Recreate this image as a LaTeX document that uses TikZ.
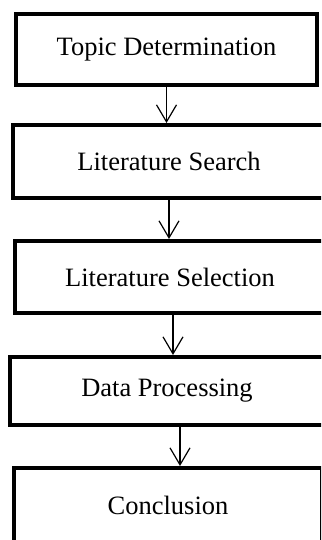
\documentclass[tikz,border=0pt]{standalone}
\usepackage{fontspec}
\setmainfont{Liberation Serif}
\usetikzlibrary{positioning,arrows.meta}

\begin{document}
\begin{tikzpicture}[x=1pt, y=1pt, node distance=38pt,
  stage/.style={draw, rectangle, line width=4pt, minimum height=72pt, font=\fontsize{26.5}{30}\selectfont},
  flow/.style={-{Straight Barb[length=17pt,width=20pt]}, line width=1.2pt}]
  \useasboundingbox (0,0) rectangle (321,-540);
  \clip (0,0) rectangle (321,-540);
  \node[stage, minimum width=301pt, minimum height=71pt] (TD) at (166.5,-49.5) {Topic Determination};
  \node[stage, minimum width=312pt, minimum height=73pt, below=36pt of TD, xshift=2.5pt] (LS) {Literature Search};
  \node[stage, minimum width=310pt, below=39pt of LS, xshift=1pt] (LSel) {Literature Selection};
  \node[stage, minimum width=314pt, minimum height=68pt, below=40pt of LSel, xshift=-3pt] (DP) {Data Processing};
  \node[stage, minimum width=308pt, minimum height=74pt, below=39pt of DP, xshift=1pt] (CO) {Conclusion};

  \draw[flow] (TD.south) -- (LS.north -| TD.south);
  \draw[flow] (LS.south) -- (LSel.north -| LS.south);
  \draw[flow] ([xshift=3pt]LSel.south) -- ([xshift=6pt]DP.north);
  \draw[flow] ([xshift=13pt]DP.south) -- ([xshift=13pt]DP.south |- CO.north);
\end{tikzpicture}
\end{document}
